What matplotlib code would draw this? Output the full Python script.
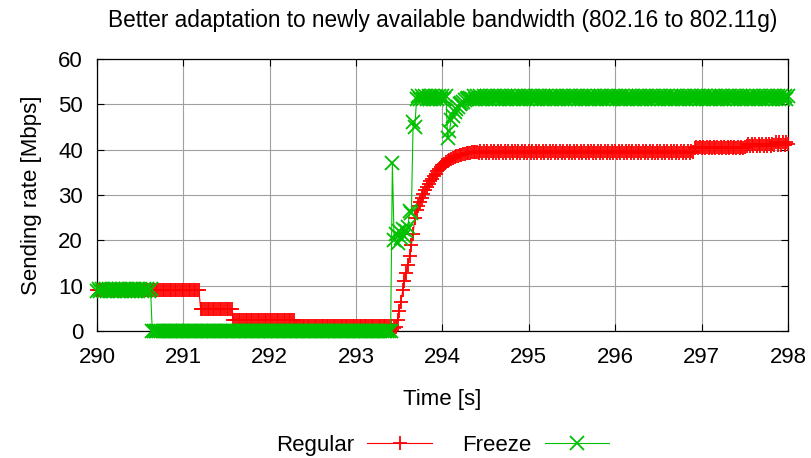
import numpy as np
import matplotlib
matplotlib.use("Agg")
import matplotlib.pyplot as plt

plt.rcParams['font.family'] = ['Liberation Sans', 'DejaVu Sans']

# sample times (s), one sample every 20 ms
time = np.round(290 + 0.02 * np.arange(401), 2)

# Regular sender (Mbps)
regular = (
    [9.0] * 60        # 290.00 - 291.18
    + [4.8] * 19      # 291.20 - 291.56
    + [2.5] * 36      # 291.58 - 292.28
    + [1.2] * 56      # 292.30 - 293.40
    + [0.3, 0.6, 0.9, 2.5, 4.5, 6.5, 9.0, 11.0, 12.8, 14.5,
       16.5, 19.0, 21.5, 25.0, 26.6, 27.6, 28.5, 29.4, 30.2, 31.0,
       31.7, 32.4, 33.0, 33.6, 34.2, 34.7, 35.2, 35.7, 36.1, 36.5,
       36.9, 37.2, 37.5, 37.8, 38.0, 38.2, 38.4, 38.6, 38.7, 38.8,
       38.9, 39.0, 39.1, 39.2, 39.3, 39.3, 39.4, 39.4, 39.5, 39.5]
    + [39.3, 39.7] * 62 + [39.5]   # 294.42 - 296.90
    + [40.3, 40.6] * 15 + [40.8, 41.2] * 8 + [41.0, 41.6] * 4 + [41.3]
)

# Freeze sender (Mbps)
freeze = (
    [8.8, 9.2] * 16   # 290.00 - 290.62
    + [0.0] * 139     # 290.64 - 293.40
    + [37.0, 20.0, 21.5, 19.5, 22.0, 20.5, 22.5, 21.0, 22.0, 23.0,
       26.5, 26.0, 46.0, 45.0]
    + [51.2, 51.8] * 9   # 293.70 - 294.04
    + [42.5, 44.0, 46.5, 47.5, 48.3, 49.0, 49.5, 50.0, 50.3, 50.6,
       50.9, 51.1, 51.3, 51.4]
    + [51.1, 51.9] * 92  # 294.34 - 298.00
)

fig = plt.figure(figsize=(8.11, 4.58), dpi=100)
ax = fig.add_axes([0.1196, 0.2773, 0.852, 0.594])

ax.plot(time, regular, color='#ff0000', lw=0.8, marker='+', ms=9.5, mew=1.3,
        clip_on=False, label='Regular', zorder=3)
ax.plot(time, freeze, color='#00c000', lw=0.8, marker='x', ms=9.5, mew=1.3,
        clip_on=False, label='Freeze', zorder=4)

ax.set_xlim(290, 298)
ax.set_ylim(0, 60)
ax.set_xticks(range(290, 299))
ax.set_yticks(range(0, 61, 10))
ax.grid(True, color='#a0a0a0', lw=0.8)
ax.set_axisbelow(True)
ax.tick_params(direction='in', length=5, width=0.8, labelsize=16,
               top=True, right=True)
ax.tick_params(axis='x', pad=11.5)
ax.tick_params(axis='y', pad=10)
for s in ax.spines.values():
    s.set_linewidth(0.9)

ax.set_title('Better adaptation to newly available bandwidth (802.16 to 802.11g)',
             fontsize=16.3, pad=23)
ax.set_xlabel('Time [s]', fontsize=16, labelpad=15)
ax.set_ylabel('Sending rate [Mbps]', fontsize=16, labelpad=12)

fig.legend(loc='center', bbox_to_anchor=(0.5456, 0.028), ncol=2, frameon=False,
           fontsize=16, markerfirst=False, handlelength=2.9, numpoints=1,
           handletextpad=0.6, columnspacing=1.35, borderpad=0.2)

fig.savefig('out.png', dpi=100)
